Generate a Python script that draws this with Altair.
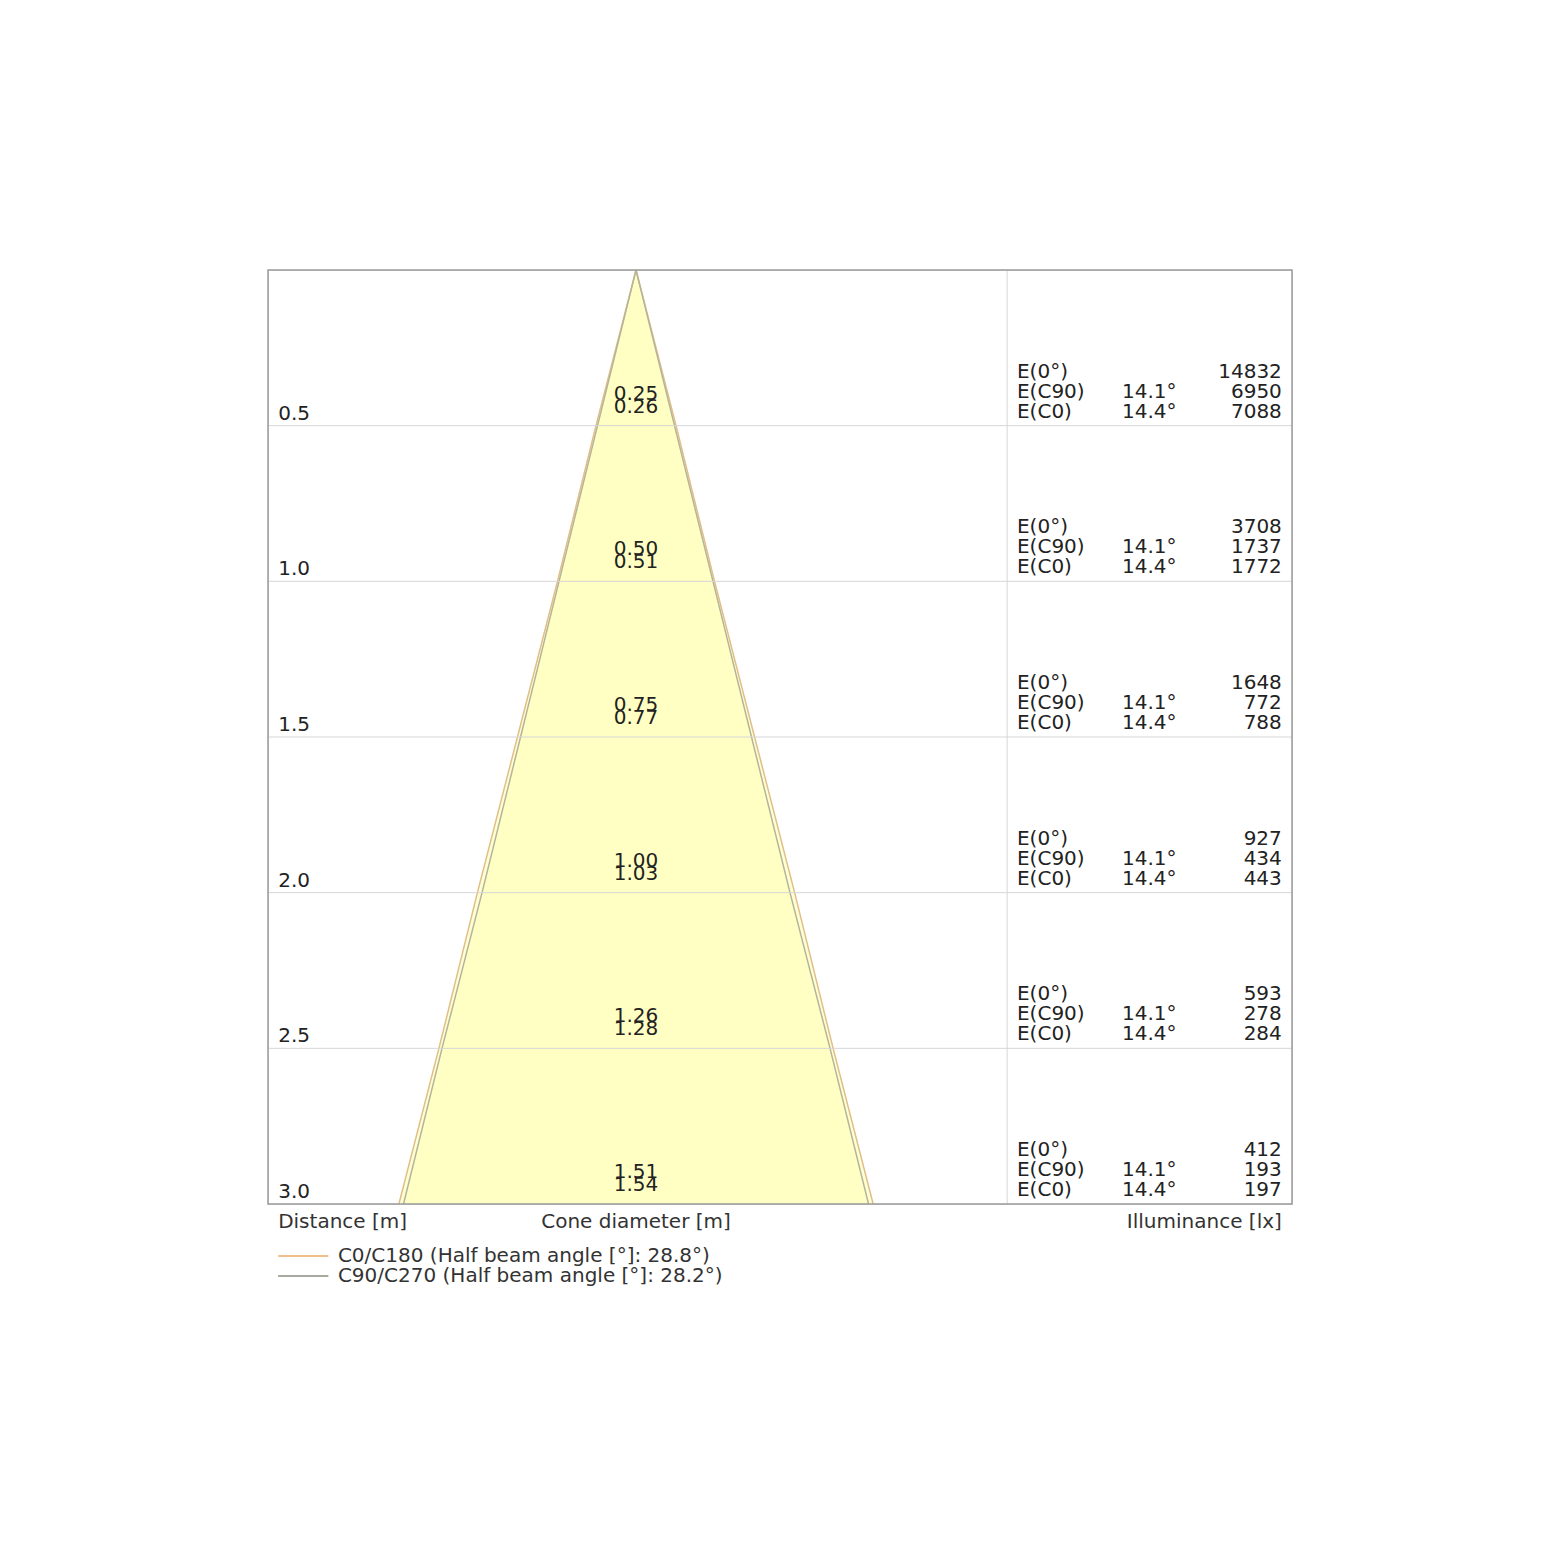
import altair as alt
import pandas as pd

# ---- data ----
distances = [0.5, 1.0, 1.5, 2.0, 2.5, 3.0]
dist_labels = ["0.5", "1.0", "1.5", "2.0", "2.5", "3.0"]
diam_c90 = [0.25, 0.50, 0.75, 1.00, 1.26, 1.51]
diam_c0 = [0.26, 0.51, 0.77, 1.03, 1.28, 1.54]
diam_c90_lbl = ["0.25", "0.50", "0.75", "1.00", "1.26", "1.51"]
diam_c0_lbl = ["0.26", "0.51", "0.77", "1.03", "1.28", "1.54"]
e0 = [14832, 3708, 1648, 927, 593, 412]
ec90 = [6950, 1737, 772, 434, 278, 193]
ec0 = [7088, 1772, 788, 443, 284, 197]
angle_c90 = "14.1°"
angle_c0 = "14.4°"
legend_labels = ["C0/C180 (Half beam angle [°]: 28.8°)",
                 "C90/C270 (Half beam angle [°]: 28.2°)"]
legend_colors = ["#F2C08C", "#A8A8A0"]

FONT = "DejaVu Sans"
FS = 20
TXT = "#222222"

X_DOM = [-1.195, 2.13]
Y_DOM = [0, 3.0]
TABLE_X = 1.205      # vertical separator (m, in cone coordinates)
COL1 = 1.237
COL2 = 1.578
COL3 = 2.097
LEFT_LBL = -1.162

xs = alt.Scale(domain=X_DOM, nice=False, zero=False)
ys = alt.Scale(domain=Y_DOM, nice=False, zero=False, reverse=True)
noax = None

# cone polygons
def cone_df(diams):
    rows = [{"d": 0.0, "lo": 0.0, "hi": 0.0}]
    for d, w in zip(distances, diams):
        rows.append({"d": d, "lo": -w / 2, "hi": w / 2})
    return pd.DataFrame(rows)

c0_df = cone_df(diam_c0)
c90_df = cone_df(diam_c90)

def area(df):
    return alt.Chart(df).mark_area(orient="horizontal", color="#FFFFB8", opacity=0.6).encode(
        y=alt.Y("d:Q", scale=ys, axis=noax),
        x=alt.X("lo:Q", scale=xs, axis=noax),
        x2="hi:Q",
    )

def edges(df, color):
    l = alt.Chart(df).mark_line(color=color, strokeWidth=1.5).encode(
        y=alt.Y("d:Q", scale=ys, axis=noax), x=alt.X("lo:Q", scale=xs, axis=noax), order="d:Q")
    r = alt.Chart(df).mark_line(color=color, strokeWidth=1.5).encode(
        y=alt.Y("d:Q", scale=ys, axis=noax), x=alt.X("hi:Q", scale=xs, axis=noax), order="d:Q")
    return l + r

rows_df = pd.DataFrame({
    "d": distances, "dl": dist_labels,
    "c90": diam_c90_lbl, "c0": diam_c0_lbl,
    "e0": [str(v) for v in e0], "ec90": [str(v) for v in ec90], "ec0": [str(v) for v in ec0],
    "xl": [X_DOM[0]] * 6, "xr": [X_DOM[1]] * 6,
    "col1": [COL1] * 6, "col2": [COL2] * 6, "col3": [COL3] * 6, "left": [LEFT_LBL] * 6,
    "a90": [angle_c90] * 6, "a0": [angle_c0] * 6,
    "n0": ["E(0°)"] * 6, "n90": ["E(C90)"] * 6, "nc0": ["E(C0)"] * 6,
    "cx": [0.0] * 6,
})
grid_df = rows_df[rows_df["d"] < 3.0]

grid = alt.Chart(grid_df).mark_rule(color="#D6D6D6", strokeWidth=1).encode(
    y=alt.Y("d:Q", scale=ys, axis=noax), x=alt.X("xl:Q", scale=xs, axis=noax), x2="xr:Q")

vsep = alt.Chart(pd.DataFrame({"x": [TABLE_X], "y1": [0.0], "y2": [3.0]})).mark_rule(
    color="#D6D6D6", strokeWidth=1).encode(
    x=alt.X("x:Q", scale=xs, axis=noax), y=alt.Y("y1:Q", scale=ys, axis=noax), y2="y2:Q")

frame = alt.Chart(pd.DataFrame({"x1": [X_DOM[0]], "x2": [X_DOM[1]], "y1": [0.0], "y2": [3.0]})).mark_rect(
    fill=None, fillOpacity=0, stroke="#9A9A9A", strokeWidth=1.5).encode(
    x=alt.X("x1:Q", scale=xs, axis=noax), x2="x2:Q",
    y=alt.Y("y1:Q", scale=ys, axis=noax), y2="y2:Q")

def txt(field, xfield, align, dy, df=rows_df):
    return alt.Chart(df).mark_text(align=align, baseline="alphabetic", dy=dy, font=FONT,
                                   fontSize=FS, color=TXT).encode(
        x=alt.X(f"{xfield}:Q", scale=xs, axis=noax),
        y=alt.Y("d:Q", scale=ys, axis=noax),
        text=f"{field}:N")

layers = [
    area(c0_df), area(c90_df),
    edges(c0_df, "#E2BE86"), edges(c90_df, "#B4B49C"),
    grid, vsep, frame,
    txt("dl", "left", "left", -6),
    txt("c90", "cx", "center", -26),
    txt("c0", "cx", "center", -13),
    txt("n0", "col1", "left", -48), txt("n90", "col1", "left", -28), txt("nc0", "col1", "left", -8),
    txt("a90", "col2", "left", -28), txt("a0", "col2", "left", -8),
    txt("e0", "col3", "right", -48), txt("ec90", "col3", "right", -28), txt("ec0", "col3", "right", -8),
]

# axis titles below the frame
titles_df = pd.DataFrame({
    "t": ["Distance [m]", "Cone diameter [m]", "Illuminance [lx]"],
    "x": [LEFT_LBL, 0.0, COL3],
    "d": [3.077, 3.077, 3.077],
    "a": ["left", "center", "right"],
})
for i in range(3):
    layers.append(alt.Chart(titles_df.iloc[[i]]).mark_text(
        align=titles_df["a"][i], baseline="alphabetic", font=FONT, fontSize=FS, color="#333333").encode(
        x=alt.X("x:Q", scale=xs, axis=noax), y=alt.Y("d:Q", scale=ys, axis=noax), text="t:N"))

# legend
leg_df = pd.DataFrame({
    "t": legend_labels, "c": legend_colors,
    "d": [3.167, 3.231], "x1": [LEFT_LBL, LEFT_LBL], "x2": [-0.999, -0.999], "xt": [-0.968, -0.968],
})
layers.append(alt.Chart(leg_df).mark_rule(strokeWidth=2).encode(
    y=alt.Y("d:Q", scale=ys, axis=noax), x=alt.X("x1:Q", scale=xs, axis=noax), x2="x2:Q",
    color=alt.Color("c:N", scale=None)))
layers.append(alt.Chart(leg_df).mark_text(align="left", baseline="middle", font=FONT, fontSize=FS,
                                          color="#333333").encode(
    y=alt.Y("d:Q", scale=ys, axis=noax), x=alt.X("xt:Q", scale=xs, axis=noax), text="t:N"))

chart = alt.layer(*layers).properties(
    width=1024, height=934,
    autosize=alt.AutoSizeParams(type="none"),
    padding={"left": 260, "top": 262, "right": 260, "bottom": 350},
).configure_view(stroke=None).configure(background="white")

chart.save("out.html", embed_options={"renderer": "svg", "actions": False})
